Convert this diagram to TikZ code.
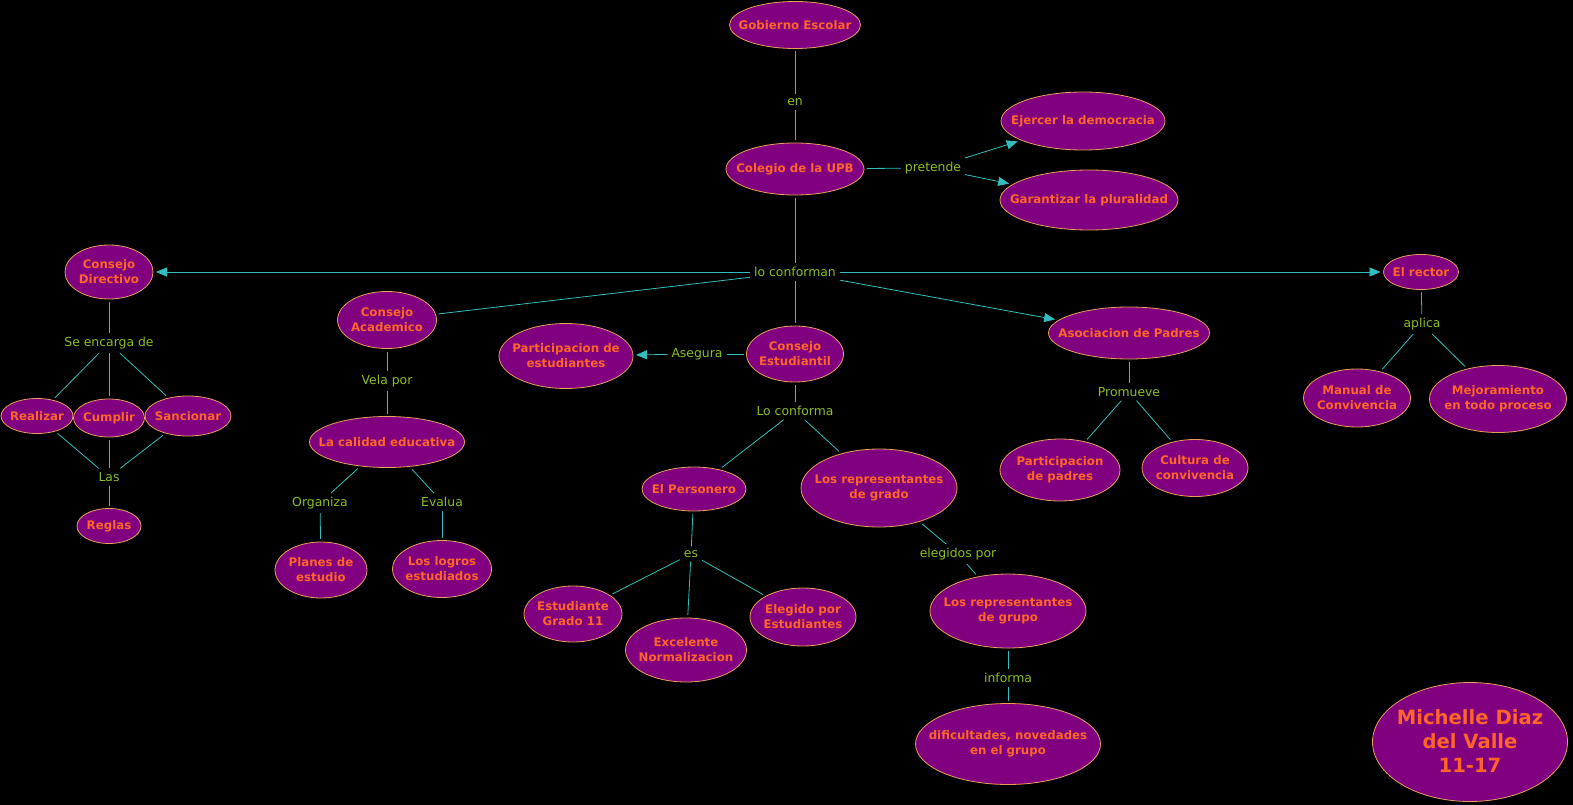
\documentclass[tikz,border=0pt]{standalone}
\usepackage{fontspec}
\setmainfont{DejaVu Sans}
\usetikzlibrary{shapes.geometric,arrows.meta}
\definecolor{cfill}{RGB}{128,0,128}
\definecolor{cdraw}{RGB}{232,160,90}
\definecolor{ctext}{RGB}{255,100,40}
\definecolor{ltext}{RGB}{140,190,30}
\definecolor{lnc}{RGB}{50,190,190}
\tikzset{
  con/.style={ellipse, fill=cfill, draw=cdraw, line width=0.8pt, inner sep=0pt, outer sep=3pt},
  ctxt/.style={text=ctext, font=\fontsize{11.8}{15}\selectfont\bfseries, align=center, inner sep=0pt},
  mtxt/.style={text=ctext, font=\fontsize{19.6}{24}\selectfont\bfseries, align=center, inner sep=0pt},
  lbl/.style={text=ltext, font=\fontsize{12.4}{14}\selectfont, inner sep=2pt, outer sep=2pt},
  ln/.style={draw=lnc, line width=0.8pt},
  arr/.style={ln, -{Triangle[length=11pt,width=9pt]}},
}
\newcommand\cn[5]{\node[con,minimum width=#3pt,minimum height=#4pt] (#1) at (#2) {};
  \node[ctxt] at (#1.center) {#5};}
\begin{document}
\begin{tikzpicture}[x=1pt,y=-1pt]
\useasboundingbox[fill=black] (0,0) rectangle (1573,805);
% concepts
\cn{gob}{795,25}{131}{47}{Gobierno Escolar}
\cn{col}{795,169}{138}{52}{Colegio de la UPB}
\cn{ejer}{1083,121}{164}{58}{Ejercer la democracia}
\cn{gar}{1089,200}{178}{60}{Garantizar la pluralidad}
\cn{cdir}{109,272}{88}{54}{Consejo\\Directivo}
\cn{real}{37,416}{72}{35}{Realizar}
\cn{cump}{109,418}{71}{38}{Cumplir}
\cn{sanc}{188,416}{86}{40}{Sancionar}
\cn{regl}{109,526}{64}{35}{Reglas}
\cn{cacad}{387,320}{99}{57}{Consejo\\Academico}
\cn{cal}{387,442}{155}{51}{La calidad educativa}
\cn{plan}{321,570}{92}{56}{Planes de\\estudio}
\cn{logr}{442,569}{99}{57}{Los logros\\estudiados}
\cn{part}{566,356}{134}{65}{Participacion de\\estudiantes}
\cn{cest}{795,354}{97}{56}{Consejo\\Estudiantil}
\cn{pers}{694,489}{104}{44}{El Personero}
\cn{estu}{573,614}{98}{56}{Estudiante\\Grado 11}
\cn{exce}{686,650}{121}{64}{Excelente\\Normalizacion}
\cn{eleg}{803,617}{106}{58}{Elegido por\\Estudiantes}
\cn{rgra}{879,488}{156}{78}{Los representantes\\de grado}
\cn{rgru}{1008,611}{156}{74}{Los representantes\\de grupo}
\cn{dif}{1008,744}{185}{81}{dificultades, novedades\\en el grupo}
\cn{asoc}{1129,333}{161}{52}{Asociacion de Padres}
\cn{ppad}{1060,470}{120}{62}{Participacion\\de padres}
\cn{cult}{1195,468}{106}{57}{Cultura de\\convivencia}
\cn{rect}{1421,272}{75}{35}{El rector}
\cn{man}{1357,398}{107}{58}{Manual de\\Convivencia}
\cn{mej}{1498,399}{137}{67}{Mejoramiento\\en todo proceso}
\node[con,minimum width=195pt,minimum height=119pt] (mich) at (1470,742) {};
\node[mtxt] at ([yshift=1pt]mich.center) {Michelle Diaz\\del Valle\\11-17};
% linking phrases
\node[lbl] (en) at (795,102) {en};
\node[lbl] (pret) at (933,168) {pretende};
\node[lbl] (lc) at (795,272) {lo conforman};
\node[lbl] (se) at (109,343) {Se encarga de};
\node[lbl] (las) at (109,477) {Las};
\node[lbl] (vela) at (387,381) {Vela por};
\node[lbl] (org) at (320,503) {Organiza};
\node[lbl] (eva) at (442,502) {Evalua};
\node[lbl] (aseg) at (697,354) {Asegura};
\node[lbl] (lcf) at (795,411) {Lo conforma};
\node[lbl] (es) at (691,554) {es};
\node[lbl] (elp) at (958,554) {elegidos por};
\node[lbl] (inf) at (1008,678) {informa};
\node[lbl] (prom) at (1129,392) {Promueve};
\node[lbl] (apl) at (1422,324) {aplica};
% connectors
\draw[ln] (gob) -- (en);
\draw[ln] (en) -- (col);
\draw[ln] (col) -- (pret);
\draw[arr] (pret) -- (ejer);
\draw[arr] (pret) -- (gar);
\draw[ln] (col) -- (lc);
\draw[arr] (lc) -- (cdir);
\draw[ln] (lc) -- (cacad);
\draw[ln] (lc) -- (cest);
\draw[arr] (lc) -- (asoc);
\draw[arr] (lc) -- (rect);
\draw[ln] (cdir) -- (se);
\draw[ln] (se) -- (real);
\draw[ln] (se) -- (cump);
\draw[ln] (se) -- (sanc);
\draw[ln] (real) -- (las);
\draw[ln] (cump) -- (las);
\draw[ln] (sanc) -- (las);
\draw[ln] (las) -- (regl);
\draw[ln] (cacad) -- (vela);
\draw[ln] (vela) -- (cal);
\draw[ln] (cal) -- (org);
\draw[ln] (cal) -- (eva);
\draw[ln] (org) -- (plan);
\draw[ln] (eva) -- (logr);
\draw[ln] (cest) -- (aseg);
\draw[arr] (aseg) -- (part);
\draw[ln] (cest) -- (lcf);
\draw[ln] (lcf) -- (pers);
\draw[ln] (lcf) -- (rgra);
\draw[ln] (pers) -- (es);
\draw[ln] (es) -- (estu);
\draw[ln] (es) -- (exce);
\draw[ln] (es) -- (eleg);
\draw[ln] (rgra) -- (elp);
\draw[ln] (elp) -- (rgru);
\draw[ln] (rgru) -- (inf);
\draw[ln] (inf) -- (dif);
\draw[ln] (asoc) -- (prom);
\draw[ln] (prom) -- (ppad);
\draw[ln] (prom) -- (cult);
\draw[ln] (rect) -- (apl);
\draw[ln] (apl) -- (man);
\draw[ln] (apl) -- (mej);
\end{tikzpicture}
\end{document}
